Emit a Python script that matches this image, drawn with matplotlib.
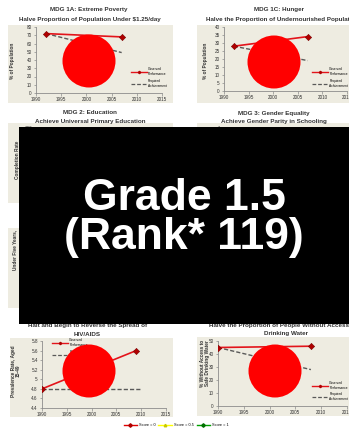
import matplotlib
matplotlib.use("Agg")
import matplotlib.pyplot as plt
from matplotlib.patches import Rectangle, Circle
from matplotlib.lines import Line2D

W, H = 349, 428
plt.rcParams['font.family'] = ['Liberation Sans', 'DejaVu Sans']

# ---- data -------------------------------------------------------------
year_ticks = [1990, 1995, 2000, 2005, 2010, 2015]

poverty_years = [1992, 2007]
poverty_observed = [72, 68]
poverty_required = [72, 49]

hunger_years = [1992, 2007]
hunger_observed = [28, 34]
hunger_required = [28, 19]

hiv_years = [1990, 2009]
hiv_observed = [4.8, 5.6]
hiv_required_years = [1990, 2010]
hiv_required = [4.8, 4.8]

water_years = [1990, 2008]
water_observed = [45, 46]
water_required = [45, 28]

grade_text = "Grade 1.5"
rank_text = "(Rank* 119)"
score_labels = ["Score = 0", "Score = 0.5", "Score = 1"]

# ---- style ------------------------------------------------------------
BEIGE = "#EEECE1"
RED = "#E3141B"
MARK = "#B00000"
DASH = "#595959"
AXIS = "#8C8C8C"
TXT = "#333333"

fig = plt.figure(figsize=(W / 100, H / 100), dpi=100)
fig.patch.set_facecolor("white")


def fx(x):
    return x / W


def fy(y):
    return 1 - y / H


def background(x0, y0, x1, y1):
    fig.add_artist(Rectangle((fx(x0), fy(y1)), (x1 - x0) / W, (y1 - y0) / H,
                             transform=fig.transFigure, facecolor=BEIGE,
                             edgecolor="none", zorder=-5))


def title(xc, y, text):
    fig.text(fx(xc), fy(y), text, ha="center", va="center", fontsize=4.5,
             fontweight="bold", color=TXT)


def make_axes(x0, y0, x1, y1, ylim, yticks, ylabels=None, xlabels=True):
    ax = fig.add_axes([fx(x0), fy(y1), (x1 - x0) / W, (y1 - y0) / H])
    ax.patch.set_visible(False)
    ax.set_xlim(1990, 2015)
    ax.set_ylim(*ylim)
    ax.set_xticks(year_ticks)
    if not xlabels:
        ax.set_xticklabels([])
    ax.set_yticks(yticks)
    if ylabels is not None:
        ax.set_yticklabels(ylabels)
    for s in ("top", "right"):
        ax.spines[s].set_visible(False)
    for s in ("left", "bottom"):
        ax.spines[s].set_color(AXIS)
        ax.spines[s].set_linewidth(0.6)
    ax.tick_params(axis="both", labelsize=3.3, colors=AXIS, labelcolor=TXT,
                   length=1.8, width=0.5, pad=1.2)
    return ax


def ylabel(x, yc, text):
    fig.text(fx(x), fy(yc), text, ha="center", va="center", rotation=90,
             fontsize=3.4, fontweight="bold", color=TXT, linespacing=1.0)


def series(ax, years, obs, req_years, req):
    ax.plot(req_years, req, color=DASH, lw=1.0, ls=(0, (3, 1.5)), zorder=2)
    ax.plot(years, obs, color=RED, lw=1.2, marker="D", markersize=3.2,
            markerfacecolor=MARK, markeredgecolor="#7A0000",
            markeredgewidth=0.4, zorder=3)


def panel_legend(ax, x, y, spacing=0.9):
    handles = [
        Line2D([], [], color=RED, lw=1.0, marker="D", markersize=1.2,
               markerfacecolor=MARK, markeredgecolor=MARK),
        Line2D([], [], color=DASH, lw=0.9, ls=(0, (3, 1.5))),
    ]
    ax.legend(handles, ["Observed\nPerformance", "Required\nAchievement"],
              loc="center left", bbox_to_anchor=(fx(x), fy(y)),
              bbox_transform=fig.transFigure, frameon=False, fontsize=2.3,
              handlelength=5.0, handletextpad=0.4, borderpad=0,
              labelspacing=spacing, borderaxespad=0)


# ---- panel backgrounds -------------------------------------------------
background(8, 25, 173, 103)
background(197, 25, 349, 103)
background(8, 123, 173, 203)
background(197, 123, 349, 203)
background(8, 228, 173, 308)
background(197, 228, 349, 308)
background(10, 338, 173, 417)
background(197, 337, 349, 416)

# ---- MDG 1A ------------------------------------------------------------
title(89, 10, "MDG 1A: Extreme Poverty")
title(90, 20, "Halve Proportion of Population Under $1.25/day")
ax1 = make_axes(36, 27, 162, 93, (0, 80), range(0, 81, 10))
series(ax1, poverty_years, poverty_observed, poverty_years, poverty_required)
ylabel(13, 61, "% of Population")
panel_legend(ax1, 131, 77.5)

# ---- MDG 1C ------------------------------------------------------------
title(279, 10, "MDG 1C: Hunger")
title(283, 20, "Halve the Proportion of Undernourished Population")
ax2 = make_axes(224, 27, 347, 91, (0, 40), range(0, 41, 5))
series(ax2, hunger_years, hunger_observed, hunger_years, hunger_required)
ylabel(205, 61, "% of Population")
panel_legend(ax2, 312, 77.5)

# ---- MDG 2 / MDG 3 / MDG 4 (under the grade box) ----------------------
title(90, 113, "MDG 2: Education")
title(90, 122, "Achieve Universal Primary Education")
ax3 = make_axes(36, 128, 162, 195, (0, 120), [120], xlabels=False)
ylabel(17, 160, "Completion Rate")

title(274, 113, "MDG 3: Gender Equality")
title(274, 122, "Achieve Gender Parity in Schooling")
ax4 = make_axes(224, 128, 347, 195, (0, 1), [1], ["1"], xlabels=False)

ax5 = make_axes(36, 233, 162, 300, (0, 200), [200], xlabels=False)
ylabel(15, 250, "Under Five Years,")

# ---- MDG 6 -------------------------------------------------------------
title(88, 325, "Halt and Begin to Reverse the Spread of")
title(87, 334, "HIV/AIDS")
ax6 = make_axes(42, 341, 166, 408, (4.4, 5.8),
                [4.4, 4.6, 4.8, 5.0, 5.2, 5.4, 5.6, 5.8],
                ["4.4", "4.6", "4.8", "5", "5.2", "5.4", "5.6", "5.8"])
series(ax6, hiv_years, hiv_observed, hiv_required_years, hiv_required)
ylabel(16, 371, "Prevalence Rate, Aged\n15-49")
panel_legend(ax6, 52, 348.5, spacing=0.9)

# ---- MDG 7C ------------------------------------------------------------
title(290, 325, "Halve the Proportion of People Without Access to Safe")
title(286, 334, "Drinking Water")
ax7 = make_axes(218, 341, 347, 406, (0, 50), range(0, 51, 10))
series(ax7, water_years, water_observed, water_years, water_required)
ylabel(205, 363, "% Without Access to\nSafe Drinking Water")
panel_legend(ax7, 312, 391)

# ---- score legend ------------------------------------------------------
score_handles = [
    Line2D([], [], color="#E00000", lw=1.0, marker="D", markersize=1.8,
           markerfacecolor="#B00000", markeredgecolor="#B00000"),
    Line2D([], [], color="#FFFF00", lw=1.0, marker="^", markersize=1.8,
           markerfacecolor="#C8C800", markeredgecolor="#C8C800"),
    Line2D([], [], color="#00A000", lw=1.0, marker="D", markersize=1.8,
           markerfacecolor="#007000", markeredgecolor="#007000"),
]
fig.legend(score_handles, score_labels, loc="center",
           bbox_to_anchor=(fx(176), fy(425)), ncol=3, frameon=False,
           fontsize=2.8, handlelength=3.5, handletextpad=0.4,
           columnspacing=0.8, borderpad=0)

# ---- score markers ----------------------------------------------------
for cx, cy in [(89, 61), (274, 62), (89, 371), (275, 371)]:
    fig.add_artist(Circle((cx / 100, (H - cy) / 100), 0.265,
                          transform=fig.dpi_scale_trans, facecolor="#FF0000",
                          edgecolor="none", zorder=15))

# ---- grade box ---------------------------------------------------------
fig.add_artist(Rectangle((fx(19), fy(324)), (W - 19) / W, (324 - 127) / H,
                         transform=fig.transFigure, facecolor="black",
                         edgecolor="none", zorder=20))
fig.text(fx(184), fy(198), grade_text, ha="center", va="center",
         fontsize=32, fontweight="bold", color="white", zorder=21)
fig.text(fx(184), fy(238), rank_text, ha="center", va="center",
         fontsize=32, fontweight="bold", color="white", zorder=21)

fig.savefig("out.png", dpi=100, facecolor="white")
